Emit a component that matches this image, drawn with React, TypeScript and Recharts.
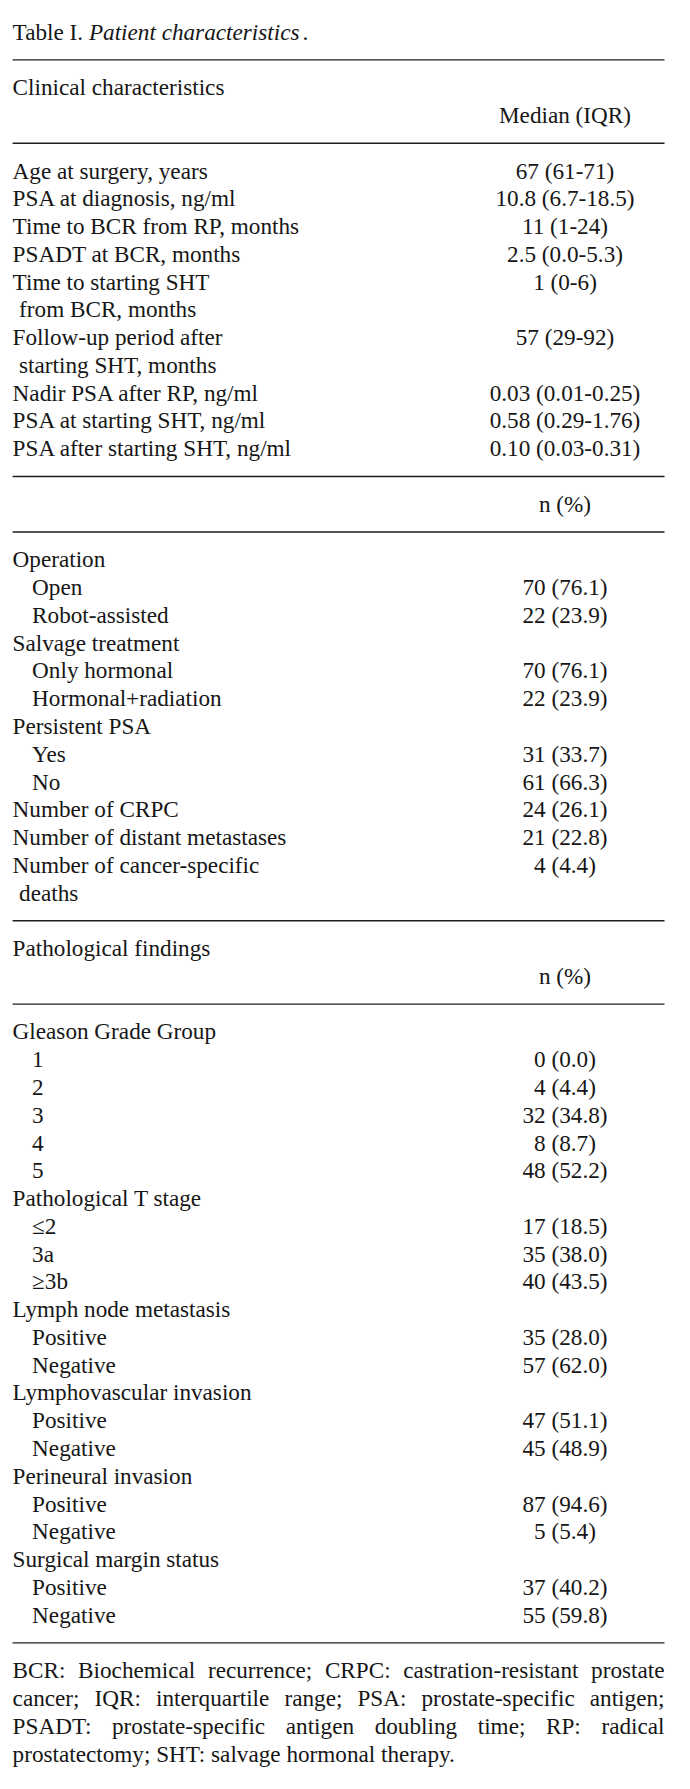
import { BarChart, Bar, XAxis, YAxis } from "recharts";

// ---- table content ----
const titleLead = "Table I. ";
const titleItalic = "Patient characteristics";

const clinicalHeader = "Clinical characteristics";
const medianHeader = "Median (IQR)";
const clinicalLabels = [
  "Age at surgery, years",
  "PSA at diagnosis, ng/ml",
  "Time to BCR from RP, months",
  "PSADT at BCR, months",
  "Time to starting SHT\nfrom BCR, months",
  "Follow-up period after\nstarting SHT, months",
  "Nadir PSA after RP, ng/ml",
  "PSA at starting SHT, ng/ml",
  "PSA after starting SHT, ng/ml",
];
const clinicalValues = [
  "67 (61-71)",
  "10.8 (6.7-18.5)",
  "11 (1-24)",
  "2.5 (0.0-5.3)",
  "1 (0-6)",
  "57 (29-92)",
  "0.03 (0.01-0.25)",
  "0.58 (0.29-1.76)",
  "0.10 (0.03-0.31)",
];

const countHeader = "n (%)";
const countLabels = [
  "Operation",
  "Open",
  "Robot-assisted",
  "Salvage treatment",
  "Only hormonal",
  "Hormonal+radiation",
  "Persistent PSA",
  "Yes",
  "No",
  "Number of CRPC",
  "Number of distant metastases",
  "Number of cancer-specific\ndeaths",
];
const countLevels = [0, 1, 1, 0, 1, 1, 0, 1, 1, 0, 0, 0];
const countValues = ["", "70 (76.1)", "22 (23.9)", "", "70 (76.1)", "22 (23.9)", "", "31 (33.7)", "61 (66.3)", "24 (26.1)", "21 (22.8)", "4 (4.4)"];

const pathologyHeader = "Pathological findings";
const pathologyLabels = [
  "Gleason Grade Group", "1", "2", "3", "4", "5",
  "Pathological T stage", "≤2", "3a", "≥3b",
  "Lymph node metastasis", "Positive", "Negative",
  "Lymphovascular invasion", "Positive", "Negative",
  "Perineural invasion", "Positive", "Negative",
  "Surgical margin status", "Positive", "Negative",
];
const pathologyLevels = [0, 1, 1, 1, 1, 1, 0, 1, 1, 1, 0, 1, 1, 0, 1, 1, 0, 1, 1, 0, 1, 1];
const pathologyValues = [
  "", "0 (0.0)", "4 (4.4)", "32 (34.8)", "8 (8.7)", "48 (52.2)",
  "", "17 (18.5)", "35 (38.0)", "40 (43.5)",
  "", "35 (28.0)", "57 (62.0)",
  "", "47 (51.1)", "45 (48.9)",
  "", "87 (94.6)", "5 (5.4)",
  "", "37 (40.2)", "55 (59.8)",
];

const footnoteLines = [
  "BCR: Biochemical recurrence; CRPC: castration-resistant prostate",
  "cancer; IQR: interquartile range; PSA: prostate-specific antigen;",
  "PSADT: prostate-specific antigen doubling time; RP: radical",
  "prostatectomy; SHT: salvage hormonal therapy.",
];

// ---- layout constants ----
const W = 674;
const H = 1765;
const FONT = "Liberation Serif";
const FS = 23.2;
const INK = "#161616";
const LEFT = 4.6;
const RIGHT = 656.5;
const VALUE_X = 557;
const BASE = 7.4;

type Row = {
  id: string;
  kind: "title" | "rule" | "text" | "note" | "last";
  label?: string;
  value?: string;
  indent?: number;
  rule?: number;
};

const rows: Row[] = [];
const push = (r: Omit<Row, "id">) => rows.push({ id: "r" + rows.length, ...r });

function pushItems(labels: string[], values: string[], levels?: number[]) {
  labels.forEach((lab, i) => {
    const parts = lab.split("\n");
    const ind = levels && levels[i] ? 19.5 : 0;
    push({ kind: "text", label: parts[0], value: values[i], indent: ind });
    parts.slice(1).forEach((p) => push({ kind: "text", label: p, value: "", indent: 6.5 }));
  });
}

// a rule spans the whole table width (1 = full x domain)
const rule = () => push({ kind: "rule", rule: 1 });

push({ kind: "title" });
rule();
push({ kind: "text", label: clinicalHeader });
push({ kind: "text", value: medianHeader });
rule();
pushItems(clinicalLabels, clinicalValues);
rule();
push({ kind: "text", value: countHeader });
rule();
pushItems(countLabels, countValues, countLevels);
rule();
push({ kind: "text", label: pathologyHeader });
push({ kind: "text", value: countHeader });
rule();
pushItems(pathologyLabels, pathologyValues, pathologyLevels);
rule();
footnoteLines.forEach((l, i) =>
  push({ kind: i === footnoteLines.length - 1 ? "last" : "note", label: l })
);

const rowById: Record<string, Row> = {};
rows.forEach((r) => (rowById[r.id] = r));

let ctx: CanvasRenderingContext2D | null = null;
function textWidth(s: string) {
  if (!ctx) ctx = document.createElement("canvas").getContext("2d");
  if (!ctx) return s.length * FS * 0.45;
  ctx.font = `${FS}px "${FONT}"`;
  return ctx.measureText(s).width;
}

function RowTick(props: any) {
  const row = rowById[props.payload?.value];
  const y = props.y + BASE;
  if (!row || row.kind === "rule") return <g />;
  const common = { fontFamily: FONT, fontSize: FS, fill: INK };
  if (row.kind === "title") {
    return (
      <text x={LEFT} y={y} {...common}>
        <tspan>{titleLead}</tspan>
        <tspan fontStyle="italic">{titleItalic}</tspan>
        <tspan dx={3}>.</tspan>
      </text>
    );
  }
  if (row.kind === "note") {
    const words = row.label!.split(" ");
    const widths = words.map(textWidth);
    const total = widths.reduce((a, b) => a + b, 0);
    const gap = (RIGHT - LEFT - total) / (words.length - 1);
    let x = LEFT;
    return (
      <g>
        {words.map((w, i) => {
          const el = (
            <text key={i} x={x} y={y} {...common}>
              {w}
            </text>
          );
          x += widths[i] + gap;
          return el;
        })}
      </g>
    );
  }
  return (
    <g>
      {row.label ? (
        <text x={LEFT + (row.indent || 0)} y={y} {...common}>
          {row.label}
        </text>
      ) : null}
      {row.value ? (
        <text x={VALUE_X} y={y} textAnchor="middle" {...common}>
          {row.value}
        </text>
      ) : null}
    </g>
  );
}

export default function App() {
  return (
    <div style={{ width: W, height: H, background: "#fff" }}>
      <BarChart
        width={W}
        height={H}
        data={rows}
        layout="vertical"
        barCategoryGap={0}
        margin={{ top: 10.4, right: W - RIGHT, bottom: 5, left: LEFT - 1 }}
      >
        <XAxis type="number" domain={[0, 1]} hide />
        <YAxis
          type="category"
          dataKey="id"
          width={1}
          interval={0}
          tickLine={false}
          axisLine={false}
          tick={(p: any) => <RowTick {...p} />}
        />
        <Bar dataKey="rule" fill="#1e1e1e" barSize={1.4} isAnimationActive={false} />
      </BarChart>
    </div>
  );
}
